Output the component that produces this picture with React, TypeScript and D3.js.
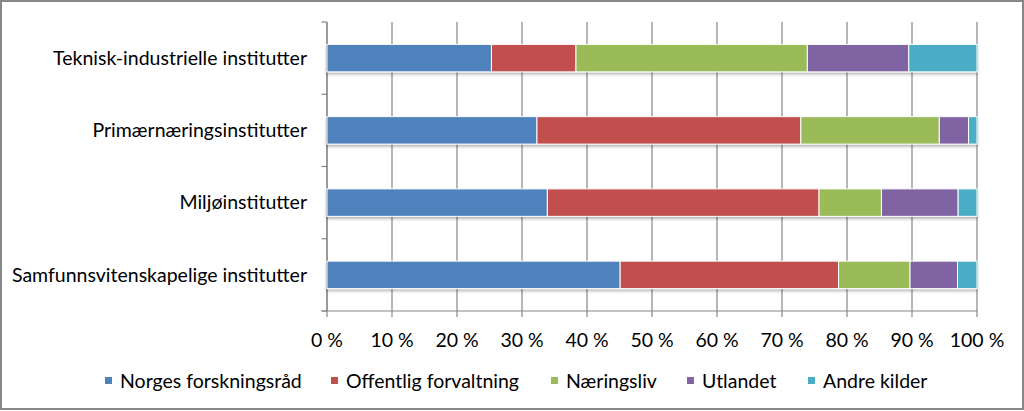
import React from "react";
import * as d3 from "d3";

const categories = [
  "Teknisk-industrielle institutter",
  "Primærnæringsinstitutter",
  "Miljøinstitutter",
  "Samfunnsvitenskapelige institutter",
];
const seriesNames = [
  "Norges forskningsråd",
  "Offentlig forvaltning",
  "Næringsliv",
  "Utlandet",
  "Andre kilder",
];
const norgesForskningsrad = [25.3, 32.3, 33.9, 45.1];
const offentligForvaltning = [13.0, 40.6, 41.8, 33.6];
const naeringsliv = [35.6, 21.3, 9.6, 11.0];
const utlandet = [15.6, 4.5, 11.8, 7.3];
const andreKilder = [10.5, 1.3, 2.9, 3.0];
const xTicks = [0, 10, 20, 30, 40, 50, 60, 70, 80, 90, 100];

const colors = ["#4F81BD", "#C0504D", "#9BBB59", "#8064A2", "#4BACC6"];
const W = 1024;
const H = 411;
const FONT = "Lato, sans-serif";
const FS = 19.5;

export default function App() {
  const series = [norgesForskningsrad, offentligForvaltning, naeringsliv, utlandet, andreKilder];
  const rows = categories.map((c, i) => {
    const r: any = { cat: c };
    seriesNames.forEach((s, j) => (r[s] = series[j][i]));
    return r;
  });
  const stack = d3.stack<any>().keys(seriesNames).offset(d3.stackOffsetExpand)(rows);

  const x = d3.scaleLinear().domain([0, 1]).range([327, 977]);
  const y = d3.scaleBand().domain(categories).range([22, 311]).paddingInner(0.62).paddingOuter(0.31);
  const step = y.step();
  const bounds = d3.range(categories.length + 1).map((i) => 22 + i * step);

  const legendX = [105, 331, 551, 687, 808];

  return (
    <svg width={W} height={H} style={{ position: "absolute", left: 0, top: 0 }} fontFamily={FONT}>
      <defs>
        <filter id="sh" x="-5%" y="-20%" width="110%" height="160%">
          <feDropShadow dx="0" dy="2" stdDeviation="1.5" floodColor="#000" floodOpacity="0.3" />
        </filter>
      </defs>
      <rect x={0} y={0} width={W} height={H} fill="#fff" />
      <rect x={1} y={1} width={W - 2} height={H - 3} fill="none" stroke="#878787" strokeWidth={2} />
      {/* gridlines */}
      {xTicks.map((t) => (
        <line key={t} x1={x(t / 100)} x2={x(t / 100)} y1={22} y2={317} stroke="#868686" strokeWidth={1.2} />
      ))}
      {/* y axis */}
      <line x1={327} x2={327} y1={22} y2={311} stroke="#868686" strokeWidth={1.2} />
      {bounds.map((b, i) => (
        <line key={i} x1={321.5} x2={327} y1={b} y2={b} stroke="#868686" strokeWidth={1.2} />
      ))}
      <line x1={321.5} x2={977} y1={311} y2={311} stroke="#868686" strokeWidth={1.2} />
      {/* bars */}
      <g filter="url(#sh)">
        {stack.map((s, j) =>
          s.map((d, i) => (
            <rect
              key={j + "-" + i}
              x={x(d[0])}
              y={y(categories[i])}
              width={x(d[1]) - x(d[0])}
              height={y.bandwidth()}
              fill={colors[j]}
              stroke="#fff"
              strokeWidth={1}
            />
          ))
        )}
      </g>
      {/* category labels */}
      {categories.map((c) => (
        <text key={c} x={307} y={(y(c) as number) + y.bandwidth() / 2} dy="0.35em" textAnchor="end" fontSize={FS} fill="#000">
          {c}
        </text>
      ))}
      {/* x tick labels */}
      {xTicks.map((t) => (
        <text key={t} x={x(t / 100)} y={340} dy="0.35em" textAnchor="middle" fontSize={FS} fill="#000">
          {t} %
        </text>
      ))}
      {/* legend */}
      {seriesNames.map((s, j) => (
        <g key={s}>
          <rect x={legendX[j]} y={377} width={7} height={7} fill={colors[j]} />
          <text x={legendX[j] + 15} y={381} dy="0.35em" fontSize={FS} fill="#000">
            {s}
          </text>
        </g>
      ))}
    </svg>
  );
}
